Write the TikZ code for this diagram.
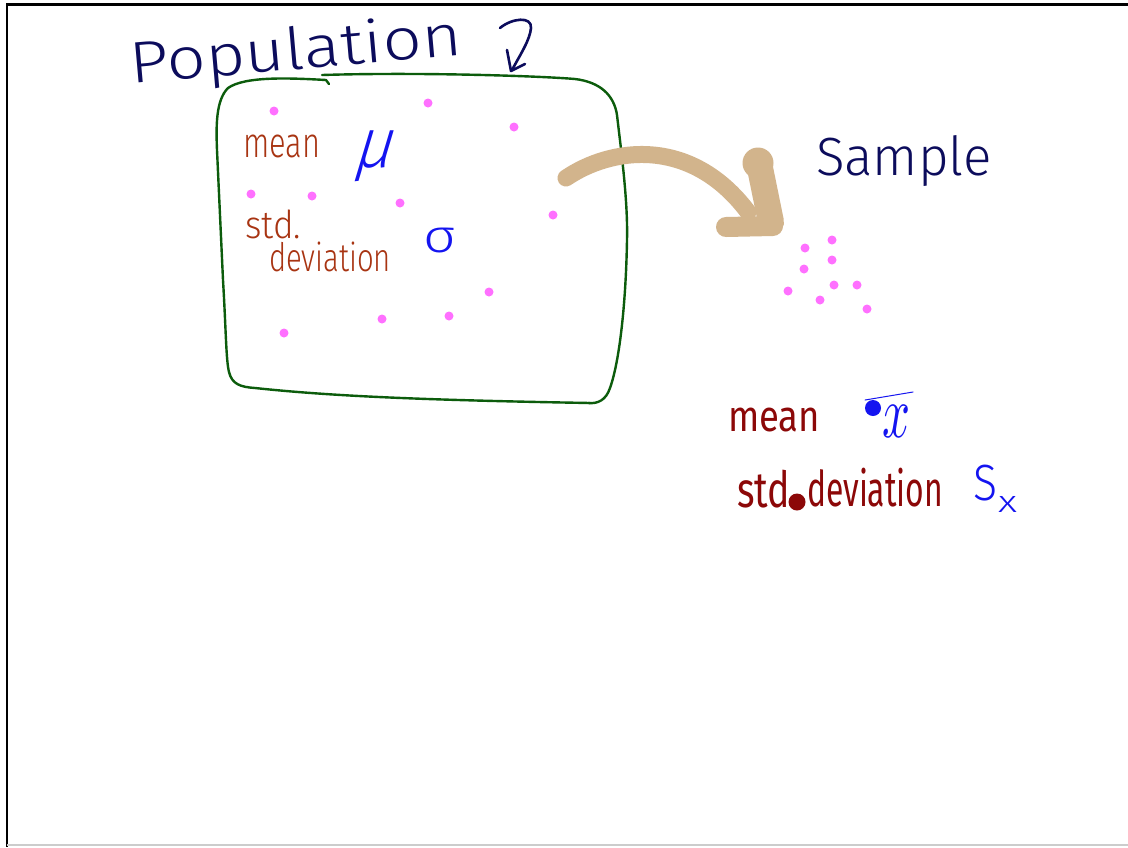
\documentclass[tikz,border=0pt]{standalone}
\usepackage{fontspec}
\usepackage{graphicx}
\newfontfamily\hand{Fira Sans Light}
\newfontfamily\handb{Fira Sans}
\definecolor{inknavy}{RGB}{12,12,92}
\definecolor{inkbrown}{RGB}{168,52,18}
\definecolor{inkred}{RGB}{140,8,8}
\definecolor{inkblue}{RGB}{20,20,240}
\definecolor{inkgreen}{RGB}{12,92,12}
\definecolor{inkpink}{RGB}{255,112,255}
\definecolor{inktan}{RGB}{210,180,140}
\tikzset{
  lbl/.style={inner sep=0pt, outer sep=0pt, anchor=north west},
  dotp/.style={circle, fill=inkpink, inner sep=0pt, minimum size=9pt},
  pen/.style={line width=2.4pt, line cap=round, line join=round},
}
% fit text into a box of given width and total height
\newcommand{\fitto}[3]{\resizebox*{#1}{#2}{#3}}
\begin{document}
\begin{tikzpicture}[x=1pt,y=-1pt]
\useasboundingbox (0,0) rectangle (1128,847);
\fill[white] (0,0) rectangle (1128,847);

% board frame
\draw[black, line width=3pt] (6,4.5) -- (1128,4.5);
\draw[black, line width=2.6pt] (7,4) -- (7,847);
\draw[black!20, line width=2pt] (7,845) -- (1128,845);

% population outline, two pen strokes
\draw[inkgreen, pen] (329,84) -- (326,80) .. controls (290,78) and (245,76) .. (228,88)
  .. controls (216,100) and (216,125) .. (217,150) -- (223,280)
  .. controls (226,330) and (226,360) .. (229,372)
  .. controls (232,384) and (240,387) .. (255,388)
  .. controls (330,396) and (420,400) .. (590,403);
\draw[inkgreen, pen] (322,75) .. controls (420,72) and (540,76) .. (575,79)
  .. controls (600,82) and (614,95) .. (617,115)
  .. controls (621,150) and (628,200) .. (627,240)
  .. controls (626,300) and (620,360) .. (610,388)
  .. controls (606,400) and (598,404) .. (588,403);

% population members
\foreach \p/\q [count=\i] in {274/111, 428/103, 514/127, 251/194, 312/196, 400/203,
    553/215, 489/292, 382/319, 449/316, 284/333}
  \node[dotp] (pop\i) at (\p,\q) {};

% sample members
\foreach \p/\q [count=\i] in {805/248, 832/240, 832/260, 804/269, 788/291, 834/285,
    857/285, 820/300, 867/309}
  \node[dotp] (smp\i) at (\p,\q) {};

% headings
\node[inner sep=0pt, anchor=base west, rotate=5, text=inknavy] (poptitle) at (131,84)
  {\resizebox{333pt}{44pt}{\hand Population}};
\draw[inknavy, pen, line width=2.6pt] (500,28) .. controls (512,18) and (532,16) .. (531,28)
  .. controls (530,40) and (520,55) .. (512,70);
\draw[inknavy, pen, line width=2.6pt] (507,50) -- (511,71) -- (525,64);
\node[lbl, text=inknavy] (smptitle) at (816,136) {\fitto{176pt}{51pt}{\hand Sample}};

% population parameters
\node[lbl, text=inkbrown] (pmean) at (243,135) {\fitto{77pt}{23pt}{\hand mean}};
\node[lbl, text=inkblue, xslant=0.3] (pmu) at (364,131) {\fitto{38pt}{51pt}{\hand μ}};
\node[lbl, text=inkbrown] (pstd) at (245,210) {\fitto{56pt}{29pt}{\hand std.}};
\node[lbl, text=inkbrown] (pdev) at (269,242) {\fitto{122pt}{30pt}{\hand deviation}};
\node[lbl, text=inkblue] (psig) at (423,228) {\fitto{33pt}{25pt}{\hand σ}};

% arrow from population to sample
\draw[inktan, line width=17pt, line cap=round] (566,178)
  .. controls (610,148) and (690,135) .. (748,212);
\fill[inktan] (758,163) circle (15.5);
\draw[inktan, line width=26pt, line cap=round, line join=round]
  (760,168) -- (771,222);
\draw[inktan, line width=20pt, line cap=round, line join=round]
  (773,226) -- (726,227);

% sample statistics
\node[lbl, text=inkred] (smean) at (728,408) {\fitto{92pt}{24pt}{\handb mean}};
\node[lbl, text=inkblue] (sx) at (882,405) {\fitto{28pt}{32pt}{$x$}};
\draw[inkblue, line width=1pt, line cap=round] (865,400) -- (913,392);
\fill[inkblue] (873,408) circle (8);
\node[lbl, text=inkred] (sstd) at (737,470) {\fitto{53pt}{38pt}{\handb std}};
\fill[inkred] (797,502) circle (8.5);
\node[lbl, text=inkred] (sdev) at (807,468) {\fitto{136pt}{39pt}{\handb deviation}};
\node[lbl, text=inkblue] (ssS) at (973,465) {\fitto{24pt}{36pt}{\hand S}};
\node[lbl, text=inkblue] (ssx) at (998,496) {\fitto{19pt}{16pt}{\hand x}};
\end{tikzpicture}
\end{document}
